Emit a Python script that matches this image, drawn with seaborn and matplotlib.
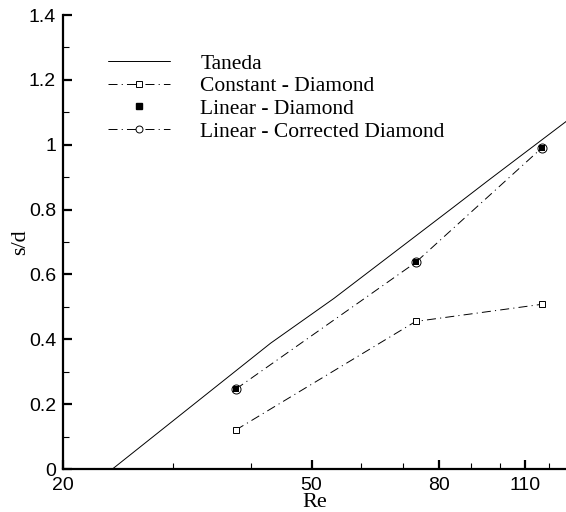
import matplotlib
matplotlib.use("Agg")
import matplotlib.pyplot as plt
import matplotlib.ticker as mticker
from matplotlib.lines import Line2D
import seaborn as sns
import pandas as pd

# ---- data ----
taneda_re = [24.0, 43.0, 54.3, 84.2, 95.8, 128.3]
taneda_sd = [0.0, 0.388, 0.526, 0.806, 0.889, 1.074]

case_re = [37.8, 73.4, 117.0]
const_diamond_sd = [0.12, 0.455, 0.508]
linear_diamond_sd = [0.246, 0.637, 0.991]
linear_corr_diamond_sd = [0.246, 0.637, 0.991]

x_major_ticks = [20, 50, 80, 110]
x_minor_ticks = [30, 40, 60, 70, 90, 100, 120]
y_major_ticks = [0, 0.2, 0.4, 0.6, 0.8, 1.0, 1.2, 1.4]

labels = ["Taneda", "Constant - Diamond", "Linear - Diamond", "Linear - Corrected Diamond"]

sns.set_theme(style="white")
plt.rcParams["lines.scale_dashes"] = False
serif = ["Liberation Serif", "DejaVu Serif"]
sans = ["Liberation Sans", "DejaVu Sans"]

fig = plt.figure(figsize=(5.66, 5.12), dpi=100)
ax = fig.add_axes([63 / 566, 1 - 469 / 512, 1 - 63 / 566 + 0.002, (469 - 15) / 512])
ax.set_facecolor("white")
fig.patch.set_facecolor("white")

dashdot = (0, (6.5, 3.0, 0.8, 3.0))

df_t = pd.DataFrame({"Re": taneda_re, "sd": taneda_sd})
sns.lineplot(data=df_t, x="Re", y="sd", ax=ax, color="black", lw=0.7,
             estimator=None, sort=False)

df_c = pd.DataFrame({"Re": case_re, "sd": const_diamond_sd})
sns.lineplot(data=df_c, x="Re", y="sd", ax=ax, color="black", lw=0.7,
             linestyle=dashdot, marker="s", markersize=5.0, markerfacecolor="white",
             markeredgecolor="black", markeredgewidth=0.7, estimator=None, sort=False)

df_lc = pd.DataFrame({"Re": case_re, "sd": linear_corr_diamond_sd})
sns.lineplot(data=df_lc, x="Re", y="sd", ax=ax, color="black", lw=0.7,
             linestyle=dashdot, marker="o", markersize=6.5, markerfacecolor="white",
             markeredgecolor="black", markeredgewidth=0.7, estimator=None, sort=False)

df_l = pd.DataFrame({"Re": case_re, "sd": linear_diamond_sd})
sns.scatterplot(data=df_l, x="Re", y="sd", ax=ax, color="black", marker="s",
                s=20, linewidth=0, zorder=5)

ax.set_xscale("log")
ax.set_xlim(20, 128.3)
ax.set_ylim(0, 1.4)

ax.xaxis.set_major_locator(mticker.FixedLocator(x_major_ticks))
ax.xaxis.set_minor_locator(mticker.FixedLocator(x_minor_ticks))
ax.xaxis.set_major_formatter(mticker.FixedFormatter([str(v) for v in x_major_ticks]))
ax.xaxis.set_minor_formatter(mticker.NullFormatter())
ax.yaxis.set_major_locator(mticker.FixedLocator(y_major_ticks))
ax.yaxis.set_minor_locator(mticker.MultipleLocator(0.1))
ax.yaxis.set_major_formatter(mticker.FuncFormatter(lambda v, p: "%g" % round(v, 2)))

for s in ["top", "right"]:
    ax.spines[s].set_visible(False)
for s in ["left", "bottom"]:
    ax.spines[s].set_visible(True)
    ax.spines[s].set_color("black")
    ax.spines[s].set_linewidth(1.6)

ax.tick_params(which="major", direction="in", length=6.5, width=1.6, color="black",
               labelsize=14, bottom=True, left=True)
ax.tick_params(which="minor", direction="in", length=4, width=0.8, color="black",
               bottom=True, left=True)
for lab in ax.get_xticklabels() + ax.get_yticklabels():
    lab.set_family(sans)
    lab.set_color("black")
ax.tick_params(axis="x", pad=6)
ax.tick_params(axis="y", pad=5)

ax.set_xlabel("Re", family=serif, fontsize=16, color="black", labelpad=-1)
ax.set_ylabel("s/d", family=serif, fontsize=16, color="black", labelpad=-1)

handles = [
    Line2D([], [], color="black", lw=0.7),
    Line2D([], [], color="black", lw=0.7, linestyle=dashdot, marker="s", markersize=4.5,
           markerfacecolor="white", markeredgecolor="black", markeredgewidth=0.7),
    Line2D([], [], color="black", lw=0, linestyle="none", marker="s", markersize=4.5,
           markerfacecolor="black", markeredgecolor="black"),
    Line2D([], [], color="black", lw=0.7, linestyle=dashdot, marker="o", markersize=5,
           markerfacecolor="white", markeredgecolor="black", markeredgewidth=0.7),
]
leg = ax.legend(handles, labels, loc="upper left", bbox_to_anchor=(0.089, 0.915),
                frameon=False, prop={"family": serif, "size": 15.5}, handlelength=2.9,
                handletextpad=1.4, labelspacing=0.12, borderpad=0, borderaxespad=0)
for t in leg.get_texts():
    t.set_color("black")

fig.savefig("out.png", dpi=100, facecolor="white")
